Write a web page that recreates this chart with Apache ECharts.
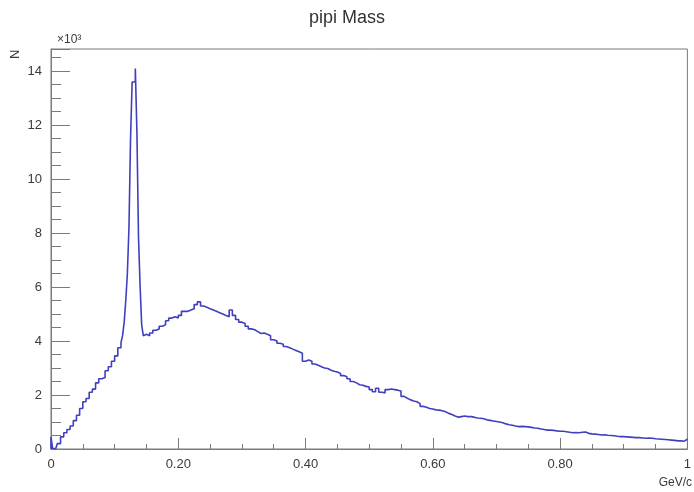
<!DOCTYPE html>
<html>
<head>
<meta charset="utf-8">
<script src="https://cdn.jsdelivr.net/npm/echarts@6/dist/echarts.min.js"></script>
<style>
html,body{margin:0;padding:0;background:#fff;}
#chart{width:694px;height:492px;}
</style>
</head>
<body>
<div id="chart"></div>
<script>
// Histogram of pipi invariant mass, counts in thousands (x10^3)
const titleText = 'pipi Mass';
const xTitle = 'GeV/c';
const yTitle = 'N';
const xTickLabels = ['0', '0.20', '0.40', '0.60', '0.80', '1'];

// bins 0 .. 0.01, width 0.0025
const startA = 0, widthA = 0.0025;
const countsA = [0.45, 0.02, 0.02, 0.08];

// bins 0.01 .. 0.11, width 0.005
const startB = 0.01, widthB = 0.005;
const countsB = [0.2, 0.45, 0.6, 0.72, 0.85, 1.05, 1.25, 1.5, 1.75, 1.87,
                 2.1, 2.22, 2.45, 2.6, 2.65, 2.9, 3.05, 3.25, 3.45, 3.75];

// bins 0.11 .. 0.15, width 0.0025 (pi0 peak)
const startC = 0.11, widthC = 0.0025;
const countsC = [3.95, 4.2, 4.7, 5.5, 6.5, 8.2, 11.5, 13.6, 13.6, 14.1,
                 11.75, 7.85, 6.05, 4.6, 4.2, 4.25];

// bins 0.15 .. 1.0, width 0.005
const startD = 0.15, widthD = 0.005;
const countsD = [
  4.2, 4.3, 4.4, 4.45, 4.55, 4.6, 4.75, 4.85, 4.9, 4.85,
  4.95, 5.1, 5.1, 5.15, 5.2, 5.35, 5.45, 5.3, 5.25, 5.2,
  5.15, 5.1, 5.05, 5.0, 4.95, 4.9, 5.15, 4.95, 4.8, 4.7,
  4.65, 4.55, 4.45, 4.42, 4.35, 4.28, 4.3, 4.25, 4.2, 4.05,
  4.0, 3.92, 3.88, 3.8, 3.75, 3.7, 3.65, 3.6, 3.55, 3.25,
  3.3, 3.25, 3.15, 3.1, 3.05, 3.0, 2.98, 2.92, 2.88, 2.85,
  2.8, 2.72, 2.68, 2.6, 2.5, 2.45, 2.38, 2.36, 2.32, 2.3,
  2.2, 2.12, 2.25, 2.1, 2.08, 2.2, 2.22, 2.2, 2.18, 2.15,
  1.95, 1.88, 1.82, 1.78, 1.75, 1.68, 1.58, 1.55, 1.5, 1.48,
  1.45, 1.44, 1.42, 1.38, 1.32, 1.28, 1.22, 1.18, 1.2, 1.22,
  1.2, 1.2, 1.18, 1.15, 1.14, 1.12, 1.08, 1.06, 1.04, 1.02,
  1.0, 0.97, 0.93, 0.9, 0.88, 0.85, 0.83, 0.84, 0.83, 0.82,
  0.8, 0.78, 0.77, 0.74, 0.72, 0.7, 0.7, 0.69, 0.67, 0.66,
  0.66, 0.64, 0.62, 0.6, 0.61, 0.6, 0.62, 0.63, 0.58, 0.56,
  0.55, 0.54, 0.52, 0.53, 0.51, 0.5, 0.49, 0.47, 0.46, 0.46,
  0.45, 0.44, 0.43, 0.42, 0.42, 0.41, 0.4, 0.41, 0.4, 0.38,
  0.37, 0.36, 0.35, 0.34, 0.33, 0.32, 0.3, 0.3, 0.29, 0.36
];

const pts = [[0, 0]];
function addBins(start, width, counts) {
  counts.forEach(function (c, i) {
    const lo = start + i * width;
    pts.push([lo, c], [lo + width, c]);
  });
}
addBins(startA, widthA, countsA);
addBins(startB, widthB, countsB);
addBins(startC, widthC, countsC);
addBins(startD, widthD, countsD);

const FONT = 'Liberation Sans, Arial, sans-serif';
const axisColor = '#7a7a7a';
const textColor = '#3a3a3a';

const chart = echarts.init(document.getElementById('chart'), null, {renderer: 'canvas'});
chart.setOption({
  animation: false,
  backgroundColor: '#ffffff',
  title: {
    text: titleText, left: 'center', top: 4,
    textStyle: {fontFamily: FONT, fontSize: 18, fontWeight: 'normal', color: '#333'}
  },
  grid: {
    left: 51, right: 2, top: 49, bottom: 43,
    show: true, borderColor: axisColor, borderWidth: 1, backgroundColor: 'transparent'
  },
  xAxis: {
    type: 'value', min: 0, max: 1, interval: 0.2,
    axisLine: {show: true, onZero: false, lineStyle: {color: axisColor, width: 1}},
    axisTick: {show: true, inside: true, length: 11, lineStyle: {color: axisColor, width: 1}},
    minorTick: {show: true, splitNumber: 4, length: 5, lineStyle: {color: axisColor, width: 1}},
    splitLine: {show: false},
    axisLabel: {
      margin: 9, fontFamily: FONT, fontSize: 13, color: textColor,
      formatter: function (v) {
        const idx = Math.round(v / 0.2);
        return xTickLabels[idx] !== undefined ? xTickLabels[idx] : '';
      }
    }
  },
  yAxis: {
    type: 'value', min: 0, max: 14.82, interval: 2,
    axisLine: {show: true, onZero: false, lineStyle: {color: axisColor, width: 1}},
    axisTick: {show: true, inside: true, length: 19, lineStyle: {color: axisColor, width: 1}},
    minorTick: {show: true, splitNumber: 4, length: 10, lineStyle: {color: axisColor, width: 1}},
    splitLine: {show: false},
    axisLabel: {
      margin: 9, fontFamily: FONT, fontSize: 13, color: textColor, showMaxLabel: false,
      formatter: function (v) { return String(Math.round(v)); }
    }
  },
  graphic: [
    {type: 'text', left: 57, top: 34,
     style: {text: '×10³', font: '12px ' + FONT, fill: textColor}},
    {type: 'text', x: 9, y: 59, rotation: Math.PI / 2,
     style: {text: yTitle, font: '13px ' + FONT, fill: textColor, textAlign: 'left', textVerticalAlign: 'top'}},
    {type: 'text', right: 2, top: 477,
     style: {text: xTitle, font: '12px ' + FONT, fill: textColor}}
  ],
  series: [{
    type: 'line',
    data: pts,
    showSymbol: false,
    symbol: 'none',
    lineStyle: {color: '#4040bf', width: 1.6},
    clip: true
  }]
});
</script>
</body>
</html>
